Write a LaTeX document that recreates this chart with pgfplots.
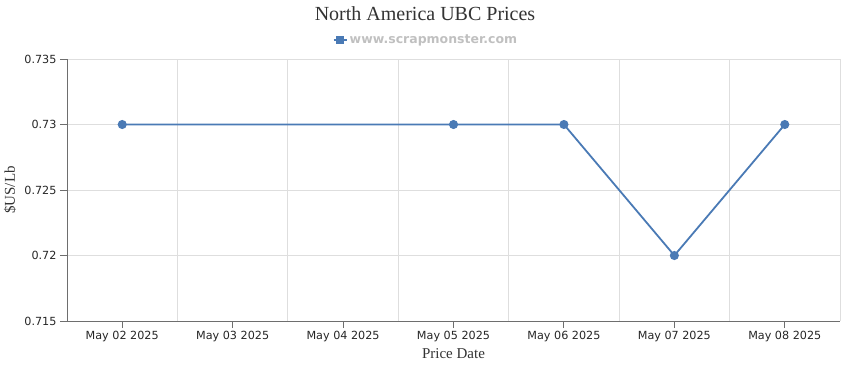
\documentclass[border=0pt]{standalone}
\usepackage{fontspec}
\setmainfont{Liberation Serif}
\newfontfamily\tickfont{DejaVu Sans}
\usepackage{pgfplots}
\pgfplotsset{compat=1.18}
\definecolor{linec}{RGB}{74,122,181}
\definecolor{gridc}{RGB}{222,222,222}
\definecolor{axc}{RGB}{110,110,110}
\definecolor{legc}{RGB}{192,192,192}
\definecolor{txtc}{RGB}{51,51,51}
\begin{document}
\begin{tikzpicture}[x=1pt,y=1pt]
\useasboundingbox (0,0) rectangle (850,370);
\node[anchor=base, font=\fontsize{20}{24}\selectfont, text=txtc] at (425,349) {North America UBC Prices};
\begin{axis}[
  at={(67pt,49pt)}, anchor=south west,
  scale only axis, width=773pt, height=262pt,
  xmin=-0.5, xmax=6.5, ymin=0.715, ymax=0.735,
  xtick={0,1,2,3,4,5,6},
  xticklabels={May 02 2025,May 03 2025,May 04 2025,May 05 2025,May 06 2025,May 07 2025,May 08 2025},
  minor xtick={-0.5,0.5,1.5,2.5,3.5,4.5,5.5,6.5},
  ytick={0.715,0.72,0.725,0.73,0.735},
  yticklabels={0.715,0.72,0.725,0.73,0.735},
  ymajorgrids, xminorgrids,
  grid style={gridc, line width=0.8pt},
  axis x line*=bottom, axis y line*=left,
  axis line style={axc, line width=0.9pt, -},
  tick style={axc, line width=0.9pt},
  major tick length=7pt, minor tick length=0pt,
  tick align=outside,
  ticklabel style={font=\tickfont\fontsize{11.2}{13}\selectfont, text=black!85},
  xlabel={Price Date}, ylabel={\$US/Lb},
  label style={font=\fontsize{15}{18}\selectfont, text=txtc},
  xlabel style={at={(axis description cs:0.5,-0.145)}, anchor=base},
  ylabel style={at={(axis description cs:-0.0737,0.5)}, anchor=center},
  legend style={at={(axis description cs:0.4644,1.0725)}, anchor=center, draw=none, fill=none,
    font=\tickfont\bfseries\fontsize{12.5}{14}\selectfont, text=legc, inner sep=1pt},
  legend image code/.code={
    \draw[line width=2pt] (0pt,0pt) -- (13pt,0pt);
    \draw[mark=square*, mark size=3pt] plot coordinates {(6.5pt,0pt)};
  },
]
\addplot[linec, line width=1.8pt, mark=*, mark size=3.6pt, mark options={solid, fill=linec}]
  coordinates {(0,0.73) (3,0.73) (4,0.73) (5,0.72) (6,0.73)};
\addlegendentry{www.scrapmonster.com}
\end{axis}
\end{tikzpicture}
\end{document}
